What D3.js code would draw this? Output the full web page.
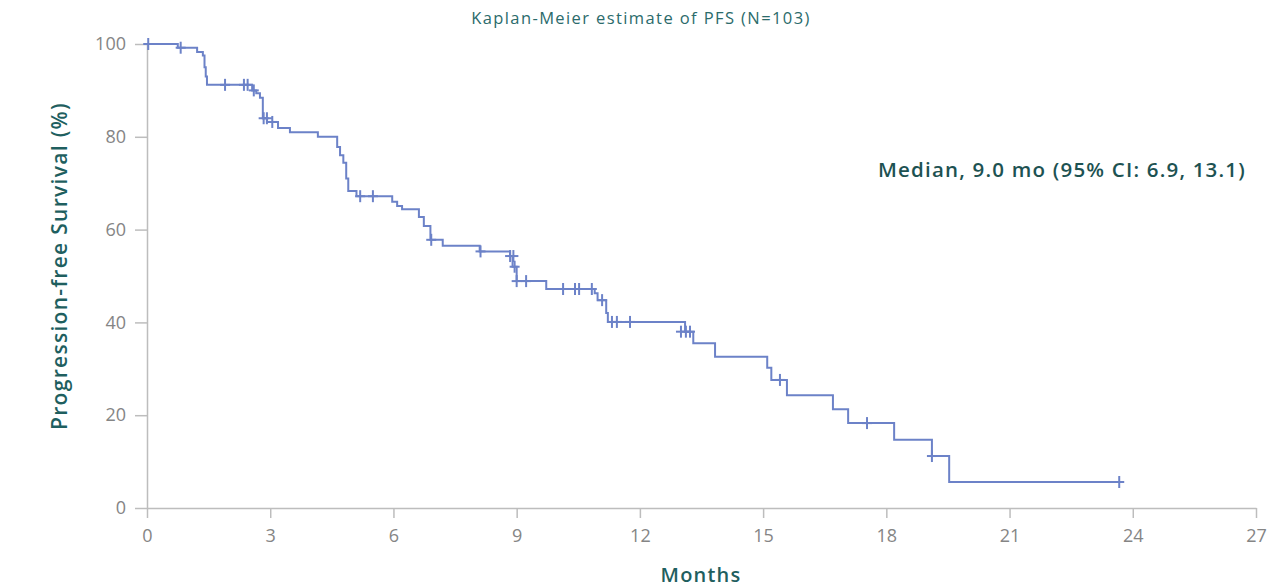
<!DOCTYPE html>
<html>
<head>
<meta charset="utf-8">
<script src="https://cdn.jsdelivr.net/npm/d3@7"></script>
<style>
  body { margin: 0; background: #fff; }
  svg { display: block; }
  .axis path, .axis line { stroke: #bdbdbd; stroke-width: 1.5; }
  .axis text { fill: #858585; font-family: "Open Sans", sans-serif; font-size: 18px; }
</style>
</head>
<body>
<svg id="Plots" width="1279" height="587"></svg>
<script>
// step points of the KM curve (months, % progression-free)
var eventTimes = [0, 0.75, 1.22, 1.36, 1.40, 1.43, 1.46, 2.56, 2.66, 2.75, 2.82, 2.92, 3.19, 3.48,
    4.16, 4.63, 4.70, 4.78, 4.85, 4.90, 5.10, 5.97, 6.09, 6.21, 6.62, 6.74, 6.90, 7.20, 8.10,
    8.84, 8.90, 9.00, 9.72, 10.90, 10.97, 11.18, 11.22, 13.10, 13.30, 13.83, 15.10, 15.20,
    15.58, 16.70, 17.07, 18.19, 19.11, 19.53, 23.67];
var eventSurv = [100, 99.2, 98.3, 97.5, 95, 93, 91.2, 90.0, 89.4, 88.4, 84.0, 83.2, 81.9, 81.0,
    80.0, 77.8, 76.0, 74.4, 71.0, 68.3, 67.2, 66.0, 65.1, 64.4, 62.7, 60.8, 57.8, 56.5, 55.3,
    54.3, 52.0, 48.9, 47.2, 46.3, 44.8, 42.0, 40.1, 38.0, 35.5, 32.6, 30.2, 27.6,
    24.3, 21.3, 18.3, 14.7, 11.2, 5.6, 5.6];

// censored patients
var censorTimes = [0.03, 0.82, 1.90, 2.36, 2.45, 2.60, 2.84, 2.92, 3.05, 5.19, 5.50, 6.92, 8.12,
    8.84, 8.92, 8.95, 9.00, 9.23, 10.13, 10.42, 10.52, 10.83, 11.08, 11.32, 11.44, 11.76,
    13.00, 13.12, 13.22, 15.41, 17.53, 19.11, 23.67];
var censorSurv = [100, 99.2, 91.2, 91.2, 91.2, 90.0, 84.0, 84.0, 83.2, 67.2, 67.2, 57.8, 55.3,
    54.3, 54.3, 52.0, 48.9, 48.9, 47.2, 47.2, 47.2, 47.2, 44.8, 40.1, 40.1, 40.1,
    38.0, 38.0, 38.0, 27.6, 18.3, 11.2, 5.6];

var xTicks = [0, 3, 6, 9, 12, 15, 18, 21, 24, 27];
var yTicks = [0, 20, 40, 60, 80, 100];

var svg = d3.select("#Plots");
var teal = "#1f5f5f", curveColor = "#6c82c8";

var xscale = d3.scaleLinear().domain([0, 27]).range([147, 1256]);
var yscale = d3.scaleLinear().domain([0, 100]).range([508, 44]);

svg.append("g")
    .attr("class", "axis")
    .attr("transform", "translate(0,508)")
    .call(d3.axisBottom(xscale).tickValues(xTicks).tickSize(10).tickSizeOuter(0).tickPadding(11));

svg.append("g")
    .attr("class", "axis")
    .attr("transform", "translate(147,0)")
    .call(d3.axisLeft(yscale).tickValues(yTicks).tickSize(12).tickSizeOuter(0).tickPadding(9));

var pts = eventTimes.map(function(t, i) { return [t, eventSurv[i]]; });
var line = d3.line()
    .x(function(d) { return xscale(d[0]); })
    .y(function(d) { return yscale(d[1]); })
    .curve(d3.curveStepAfter);

svg.append("path")
    .datum(pts)
    .attr("fill", "none")
    .attr("stroke", curveColor)
    .attr("stroke-width", 2)
    .attr("d", line);

// censor marks
svg.append("g")
    .selectAll("line")
    .data(censorTimes)
    .enter().append("line")
    .attr("x1", function(d) { return xscale(d); })
    .attr("x2", function(d) { return xscale(d); })
    .attr("y1", function(d, i) { return yscale(censorSurv[i]) - 6; })
    .attr("y2", function(d, i) { return yscale(censorSurv[i]) + 6; })
    .attr("stroke", curveColor)
    .attr("stroke-width", 2);
svg.append("g")
    .selectAll("line")
    .data(censorTimes)
    .enter().append("line")
    .attr("x1", function(d) { return xscale(d) - 5; })
    .attr("x2", function(d) { return xscale(d) + 5; })
    .attr("y1", function(d, i) { return yscale(censorSurv[i]); })
    .attr("y2", function(d, i) { return yscale(censorSurv[i]); })
    .attr("stroke", curveColor)
    .attr("stroke-width", 2);

// texts
svg.append("text")
    .attr("x", 641).attr("y", 24)
    .attr("text-anchor", "middle")
    .attr("font-family", "Open Sans, sans-serif")
    .attr("font-size", 16.5)
    .attr("letter-spacing", 1.4)
    .attr("fill", "#2b6b6b")
    .text("Kaplan-Meier estimate of PFS (N=103)");

svg.append("text")
    .attr("x", 701).attr("y", 582)
    .attr("text-anchor", "middle")
    .attr("font-family", "Open Sans, sans-serif")
    .attr("font-size", 20)
    .attr("font-weight", 600)
    .attr("letter-spacing", 1.2)
    .attr("fill", teal)
    .text("Months");

svg.append("text")
    .attr("transform", "translate(67,266) rotate(-90)")
    .attr("text-anchor", "middle")
    .attr("font-family", "Open Sans, sans-serif")
    .attr("font-size", 21)
    .attr("font-weight", 600)
    .attr("letter-spacing", 1.3)
    .attr("fill", teal)
    .text("Progression-free Survival (%)");

svg.append("text")
    .attr("x", 878).attr("y", 177)
    .attr("font-family", "Open Sans, sans-serif")
    .attr("font-size", 20.5)
    .attr("font-weight", 600)
    .attr("letter-spacing", 1.2)
    .attr("fill", "#1d5252")
    .text("Median, 9.0 mo (95% CI: 6.9, 13.1)");
</script>
</body>
</html>
